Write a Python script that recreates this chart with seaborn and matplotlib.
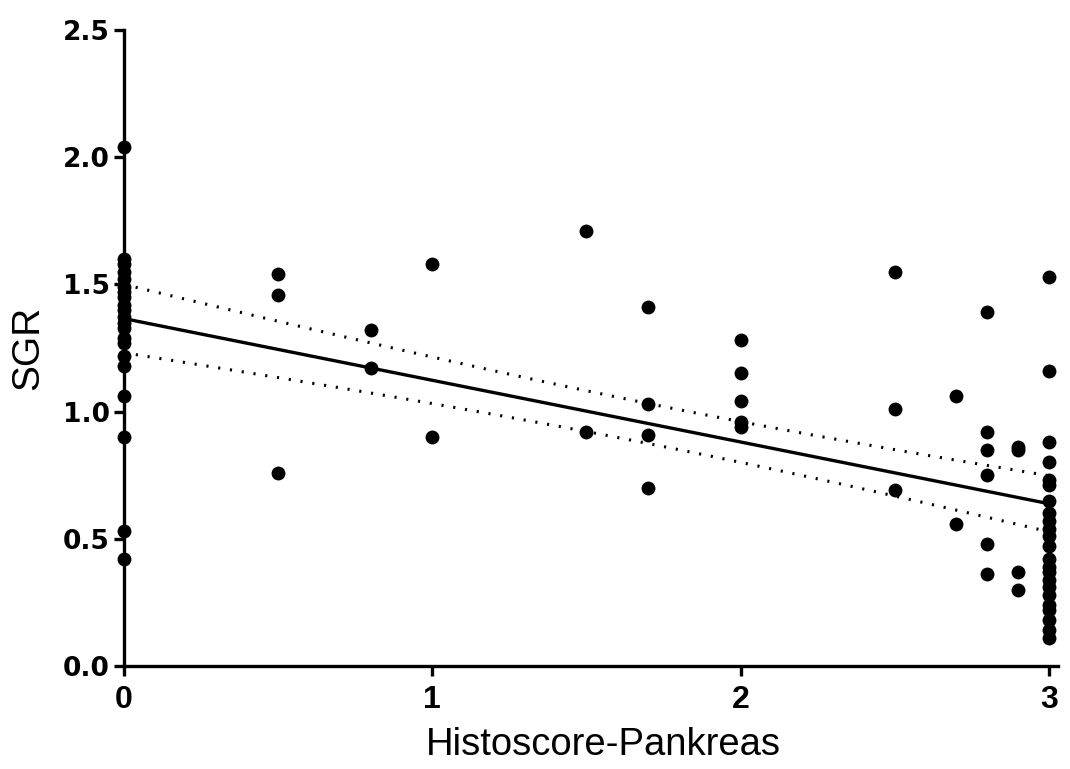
import numpy as np
import pandas as pd
import matplotlib
matplotlib.use("Agg")
import matplotlib.pyplot as plt
import seaborn as sns

# ---- data ----
x_0 = [2.04, 1.60, 1.58, 1.55, 1.52, 1.49, 1.47, 1.45, 1.42, 1.40, 1.37, 1.35,
       1.33, 1.29, 1.27, 1.22, 1.18, 1.06, 0.90, 0.53, 0.42]
x_05 = [1.54, 1.46, 0.76]
x_08 = [1.32, 1.17]
x_10 = [1.58, 0.90]
x_15 = [1.71, 0.92]
x_17 = [1.41, 1.03, 0.91, 0.70]
x_20 = [1.28, 1.15, 1.04, 0.96, 0.94]
x_25 = [1.55, 1.01, 0.69]
x_27 = [1.06, 0.56]
x_28 = [1.39, 0.92, 0.85, 0.75, 0.48, 0.36]
x_29 = [0.86, 0.85, 0.37, 0.30]
x_30 = [1.53, 1.16, 0.88, 0.80, 0.73, 0.71, 0.65, 0.60, 0.57, 0.54, 0.51, 0.47,
        0.42, 0.39, 0.37, 0.34, 0.31, 0.28, 0.24, 0.22, 0.18, 0.14, 0.11]

histoscores = [0, 0.5, 0.8, 1.0, 1.5, 1.7, 2.0, 2.5, 2.7, 2.8, 2.9, 3.0]
sgr_groups = [x_0, x_05, x_08, x_10, x_15, x_17, x_20, x_25, x_27, x_28, x_29, x_30]

x_ticks = [0, 1, 2, 3]
y_ticks = [0.0, 0.5, 1.0, 1.5, 2.0, 2.5]
y_tick_labels = ["0.0", "0.5", "1.0", "1.5", "2.0", "2.5"]

xs, ys = [], []
for h, g in zip(histoscores, sgr_groups):
    xs += [h] * len(g)
    ys += g
df = pd.DataFrame({"Histoscore-Pankreas": xs, "SGR": ys})

# linear regression with 95% confidence band
x = df["Histoscore-Pankreas"].to_numpy()
y = df["SGR"].to_numpy()
n = len(x)
slope, intercept = np.polyfit(x, y, 1)
resid = y - (intercept + slope * x)
s = np.sqrt(np.sum(resid ** 2) / (n - 2))
xbar = x.mean()
sxx = np.sum((x - xbar) ** 2)
t_crit = 1.993
xg = np.linspace(0, 3, 100)
yg = intercept + slope * xg
half = t_crit * s * np.sqrt(1 / n + (xg - xbar) ** 2 / sxx)

# ---- plot ----
sns.set_style("ticks")
plt.rcParams["font.family"] = ["Liberation Sans", "DejaVu Sans"]
plt.rcParams["text.color"] = "black"
plt.rcParams["axes.labelcolor"] = "black"

fig = plt.figure(figsize=(10.7, 7.69), dpi=100)
ax = fig.add_axes([0.1159, 0.1339, 0.8729, 0.8271])

sns.scatterplot(data=df, x="Histoscore-Pankreas", y="SGR", ax=ax,
                color="black", s=100, edgecolor="black", linewidth=0,
                zorder=3, clip_on=False)
ax.plot(xg, yg, color="black", lw=2.4, zorder=2)
ax.plot(xg, yg + half, color="black", lw=2.2, ls=(0, (0.7, 3.2)), zorder=2)
ax.plot(xg, yg - half, color="black", lw=2.2, ls=(0, (0.7, 3.2)), zorder=2)

ax.set_xlim(0, 3.03)
ax.set_ylim(0, 2.5)
ax.set_xticks(x_ticks)
ax.set_xticklabels([str(t) for t in x_ticks], fontsize=23, fontweight="bold",
                   family="Liberation Sans")
ax.set_yticks(y_ticks)
ax.set_yticklabels(y_tick_labels, fontsize=19, fontweight="bold",
                   family="DejaVu Sans")

for sp in ["top", "right"]:
    ax.spines[sp].set_visible(False)
for sp in ["left", "bottom"]:
    ax.spines[sp].set_linewidth(2.4)
    ax.spines[sp].set_color("black")

ax.tick_params(axis="both", direction="out", length=7, width=2.4,
               colors="black")
ax.tick_params(axis="x", pad=7)
ax.tick_params(axis="y", pad=3)

ax.set_xlabel("Histoscore-Pankreas", fontsize=27.5, labelpad=8, color="black")
ax.set_ylabel("SGR", fontsize=28, labelpad=12, color="black")
ax.xaxis.label.set_x(0.513)

fig.savefig("out.png", dpi=100)
